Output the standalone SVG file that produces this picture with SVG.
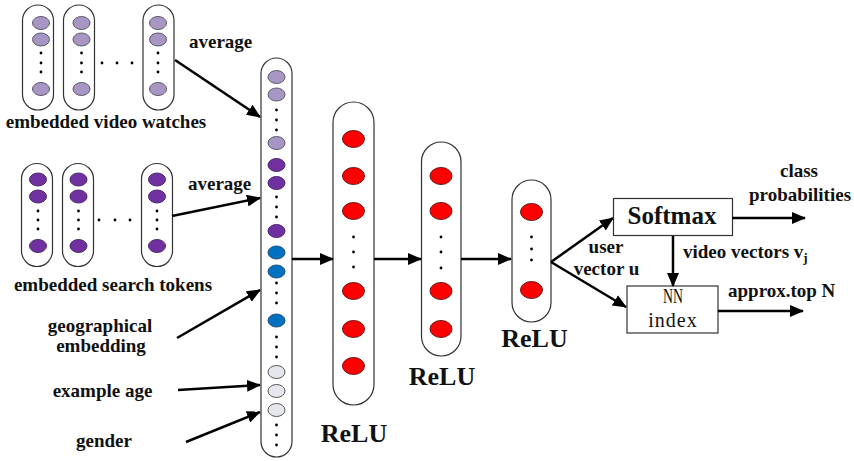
<svg xmlns="http://www.w3.org/2000/svg" width="854" height="461" viewBox="0 0 854 461">
<style>
.pill{fill:#fff;stroke:#333;stroke-width:1.2}
.lp{fill:#a795c4;stroke:#5a5a6a;stroke-width:1}
.dp{fill:#7030a0;stroke:#4a2a6a;stroke-width:1}
.bl{fill:#0070c0;stroke:#1f4e79;stroke-width:1}
.gr{fill:#e6e6ee;stroke:#555;stroke-width:1}
.rd{fill:#ff0000;stroke:#6a1a1a;stroke-width:1}
.dot{fill:#000}
.t{font-family:"Liberation Serif","Times New Roman",serif;font-weight:bold;font-size:19px;fill:#111}
.big{font-family:"Liberation Serif","Times New Roman",serif;font-weight:bold;font-size:26px;fill:#111}
.n{font-family:"Liberation Serif","Times New Roman",serif;font-size:20px;fill:#111}
.box{fill:#fff;stroke:#333;stroke-width:1.2}
.ar{stroke:#000;stroke-width:2.5;fill:none;marker-end:url(#ah)}
</style>
<defs>
<marker id="ah" markerUnits="userSpaceOnUse" markerWidth="14" markerHeight="12" refX="13" refY="6" orient="auto">
<path d="M0,0 L14,6 L0,12 z" fill="#000"/>
</marker>
</defs>
<rect width="854" height="461" fill="#fff"/>

<g id="video-watches">
<rect class="pill" x="22.5" y="5" width="31" height="105" rx="15.5"/>
<rect class="pill" x="63.5" y="5" width="31" height="105" rx="15.5"/>
<rect class="pill" x="143" y="5" width="31" height="105" rx="15.5"/>
<ellipse class="lp" cx="41" cy="23" rx="8.5" ry="6.5"/><ellipse class="lp" cx="41" cy="39.5" rx="8.5" ry="6.5"/><ellipse class="lp" cx="41" cy="89" rx="8.5" ry="6.5"/>
<ellipse class="lp" cx="81.5" cy="23" rx="8.5" ry="6.5"/><ellipse class="lp" cx="81.5" cy="39.5" rx="8.5" ry="6.5"/><ellipse class="lp" cx="81.5" cy="89" rx="8.5" ry="6.5"/>
<ellipse class="lp" cx="158" cy="23" rx="8.5" ry="6.5"/><ellipse class="lp" cx="158" cy="39.5" rx="8.5" ry="6.5"/><ellipse class="lp" cx="158" cy="89" rx="8.5" ry="6.5"/>
<circle class="dot" cx="41" cy="53" r="1.4"/><circle class="dot" cx="41" cy="63" r="1.4"/><circle class="dot" cx="41" cy="72" r="1.4"/>
<circle class="dot" cx="81.5" cy="53" r="1.4"/><circle class="dot" cx="81.5" cy="63" r="1.4"/><circle class="dot" cx="81.5" cy="72" r="1.4"/>
<circle class="dot" cx="158" cy="53" r="1.4"/><circle class="dot" cx="158" cy="63" r="1.4"/><circle class="dot" cx="158" cy="72" r="1.4"/>
<circle class="dot" cx="102" cy="63" r="1.4"/><circle class="dot" cx="117" cy="63" r="1.4"/><circle class="dot" cx="132" cy="63" r="1.4"/>
<text class="t" x="106" y="128" text-anchor="middle">embedded video watches</text>
<text class="t" x="189" y="48">average</text>
</g>

<g id="search-tokens">
<rect class="pill" x="21.5" y="163.5" width="31" height="103" rx="15.5"/>
<rect class="pill" x="62.5" y="163.5" width="31" height="103" rx="15.5"/>
<rect class="pill" x="141.5" y="163.5" width="31" height="103" rx="15.5"/>
<ellipse class="dp" cx="38" cy="179.5" rx="8.5" ry="6.5"/><ellipse class="dp" cx="38" cy="196.5" rx="8.5" ry="6.5"/><ellipse class="dp" cx="38" cy="246" rx="8.5" ry="6.5"/>
<ellipse class="dp" cx="78.5" cy="179.5" rx="8.5" ry="6.5"/><ellipse class="dp" cx="78.5" cy="196.5" rx="8.5" ry="6.5"/><ellipse class="dp" cx="78.5" cy="246" rx="8.5" ry="6.5"/>
<ellipse class="dp" cx="157" cy="179.5" rx="8.5" ry="6.5"/><ellipse class="dp" cx="157" cy="196.5" rx="8.5" ry="6.5"/><ellipse class="dp" cx="157" cy="246" rx="8.5" ry="6.5"/>
<circle class="dot" cx="38" cy="211" r="1.4"/><circle class="dot" cx="38" cy="220" r="1.4"/><circle class="dot" cx="38" cy="229" r="1.4"/>
<circle class="dot" cx="78.5" cy="211" r="1.4"/><circle class="dot" cx="78.5" cy="220" r="1.4"/><circle class="dot" cx="78.5" cy="229" r="1.4"/>
<circle class="dot" cx="157" cy="211" r="1.4"/><circle class="dot" cx="157" cy="220" r="1.4"/><circle class="dot" cx="157" cy="229" r="1.4"/>
<circle class="dot" cx="99" cy="220" r="1.4"/><circle class="dot" cx="115" cy="220" r="1.4"/><circle class="dot" cx="130" cy="220" r="1.4"/>
<text class="t" x="113" y="291" text-anchor="middle">embedded search tokens</text>
<text class="t" x="188" y="190">average</text>
</g>

<g id="geo"><text class="t" x="100" y="332" text-anchor="middle">geographical</text><text class="t" x="101" y="352" text-anchor="middle">embedding</text></g>
<g id="age"><text class="t" x="102.5" y="397" text-anchor="middle">example age</text></g>
<g id="gender"><text class="t" x="104" y="447" text-anchor="middle">gender</text></g>

<g id="input-layer">
<rect class="pill" x="261" y="58" width="31" height="399" rx="15.5"/>
<ellipse class="lp" cx="276.5" cy="77" rx="8.5" ry="6.5"/><ellipse class="lp" cx="276.5" cy="94.5" rx="8.5" ry="6.5"/><ellipse class="lp" cx="276.5" cy="143" rx="8.5" ry="6.5"/>
<circle class="dot" cx="276.5" cy="110" r="1.4"/><circle class="dot" cx="276.5" cy="120" r="1.4"/><circle class="dot" cx="276.5" cy="130" r="1.4"/>
<ellipse class="dp" cx="276.5" cy="165" rx="8.5" ry="6.5"/><ellipse class="dp" cx="276.5" cy="183" rx="8.5" ry="6.5"/><ellipse class="dp" cx="276.5" cy="231" rx="8.5" ry="6.5"/>
<circle class="dot" cx="276.5" cy="197" r="1.4"/><circle class="dot" cx="276.5" cy="207" r="1.4"/><circle class="dot" cx="276.5" cy="217" r="1.4"/>
<ellipse class="bl" cx="276.5" cy="252.5" rx="8.5" ry="6.5"/><ellipse class="bl" cx="276.5" cy="271.5" rx="8.5" ry="6.5"/><ellipse class="bl" cx="276.5" cy="320.5" rx="8.5" ry="6.5"/>
<circle class="dot" cx="276.5" cy="283" r="1.4"/><circle class="dot" cx="276.5" cy="293" r="1.4"/><circle class="dot" cx="276.5" cy="303" r="1.4"/>
<circle class="dot" cx="276.5" cy="337" r="1.4"/><circle class="dot" cx="276.5" cy="347" r="1.4"/><circle class="dot" cx="276.5" cy="357" r="1.4"/>
<ellipse class="gr" cx="276.5" cy="372" rx="8.5" ry="6.5"/><ellipse class="gr" cx="276.5" cy="391" rx="8.5" ry="6.5"/><ellipse class="gr" cx="276.5" cy="410" rx="8.5" ry="6.5"/>
<circle class="dot" cx="276.5" cy="425" r="1.4"/><circle class="dot" cx="276.5" cy="435" r="1.4"/><circle class="dot" cx="276.5" cy="445" r="1.4"/>
</g>

<g id="relu1">
<rect class="pill" x="333" y="102" width="41" height="303" rx="20.5"/>
<ellipse class="rd" cx="353.5" cy="139" rx="11" ry="8.5"/><ellipse class="rd" cx="353.5" cy="176" rx="11" ry="8.5"/><ellipse class="rd" cx="353.5" cy="211" rx="11" ry="8.5"/>
<circle class="dot" cx="353.5" cy="237" r="1.4"/><circle class="dot" cx="353.5" cy="252" r="1.4"/><circle class="dot" cx="353.5" cy="267" r="1.4"/>
<ellipse class="rd" cx="353.5" cy="291" rx="11" ry="8.5"/><ellipse class="rd" cx="353.5" cy="329" rx="11" ry="8.5"/><ellipse class="rd" cx="353.5" cy="366" rx="11" ry="8.5"/>
<text class="big" x="354" y="442" text-anchor="middle">ReLU</text>
</g>

<g id="relu2">
<rect class="pill" x="421.5" y="142" width="39.5" height="214" rx="19.75"/>
<ellipse class="rd" cx="441" cy="176" rx="11" ry="8.5"/><ellipse class="rd" cx="441" cy="211" rx="11" ry="8.5"/>
<circle class="dot" cx="441" cy="237" r="1.4"/><circle class="dot" cx="441" cy="252" r="1.4"/><circle class="dot" cx="441" cy="268" r="1.4"/>
<ellipse class="rd" cx="441" cy="291" rx="11" ry="8.5"/><ellipse class="rd" cx="441" cy="329" rx="11" ry="8.5"/>
<text class="big" x="442" y="385" text-anchor="middle">ReLU</text>
</g>

<g id="relu3">
<rect class="pill" x="512" y="180" width="39" height="142" rx="19.5"/>
<ellipse class="rd" cx="531.5" cy="212" rx="11" ry="8.5"/>
<circle class="dot" cx="531.5" cy="237" r="1.4"/><circle class="dot" cx="531.5" cy="249" r="1.4"/><circle class="dot" cx="531.5" cy="260" r="1.4"/>
<ellipse class="rd" cx="531.5" cy="290" rx="11" ry="8.5"/>
<text class="big" x="534.5" y="347" text-anchor="middle">ReLU</text>
</g>

<g id="softmax">
<rect class="box" x="613.5" y="198.5" width="119" height="37"/>
<text class="big" x="672" y="224" text-anchor="middle" style="font-size:25px">Softmax</text>
</g>

<g id="nn-index">
<rect class="box" x="627" y="286" width="91" height="47"/>
<text class="n" x="673" y="303" text-anchor="middle" textLength="20" lengthAdjust="spacingAndGlyphs">NN</text>
<text class="n" x="673" y="327" text-anchor="middle" letter-spacing="1">index</text>
</g>

<g id="labels">
<text class="t" x="606" y="253" text-anchor="middle">user</text>
<text class="t" x="606.5" y="275" text-anchor="middle">vector u</text>
<text class="t" x="683" y="258">video vectors v<tspan font-size="13" dy="4">j</tspan></text>
<text class="t" x="728" y="297">approx.top N</text>
<text class="t" x="799" y="177" text-anchor="middle">class</text>
<text class="t" x="800" y="201" text-anchor="middle">probabilities</text>
</g>

<g id="connectors">
<line class="ar" x1="175" y1="60" x2="260" y2="117"/>
<line class="ar" x1="172" y1="216" x2="260" y2="198"/>
<line class="ar" x1="177" y1="338" x2="260" y2="290"/>
<line class="ar" x1="178" y1="390" x2="260" y2="385"/>
<line class="ar" x1="186" y1="442" x2="260" y2="412"/>
<line class="ar" x1="292" y1="259" x2="333" y2="259"/>
<line class="ar" x1="374" y1="259" x2="421" y2="259"/>
<line class="ar" x1="461" y1="259" x2="511" y2="259"/>
<line class="ar" x1="551" y1="262" x2="613" y2="218"/>
<line class="ar" x1="551" y1="262" x2="626" y2="307"/>
<line class="ar" x1="732" y1="218" x2="805" y2="218"/>
<line class="ar" x1="673" y1="236" x2="673" y2="286"/>
<line class="ar" x1="718" y1="311" x2="803" y2="311"/>
</g>
</svg>
